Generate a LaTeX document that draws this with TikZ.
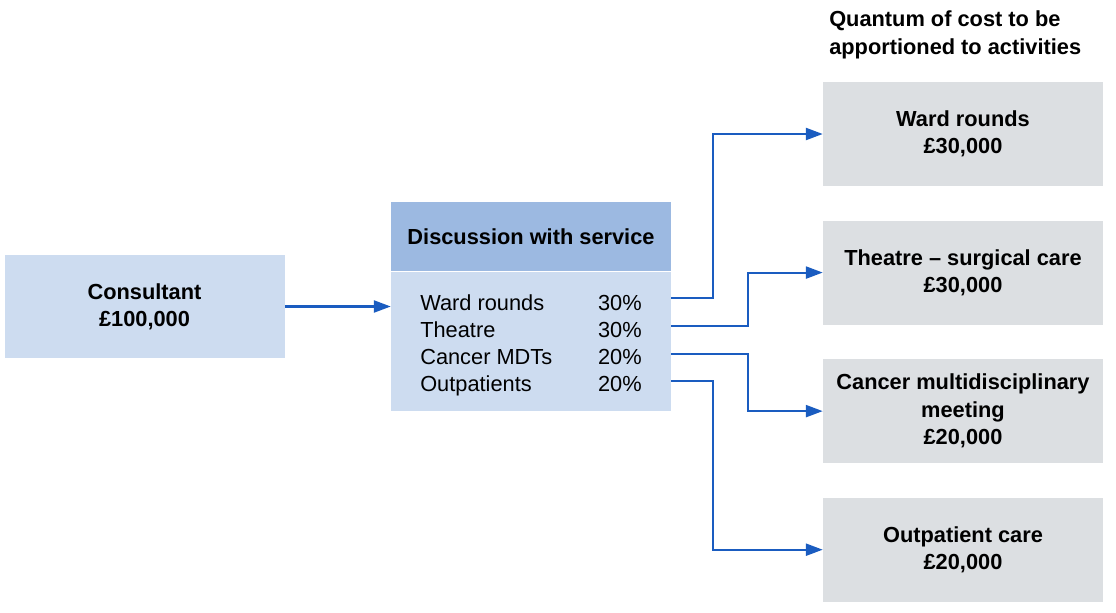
\documentclass[tikz,border=0pt]{standalone}
\usepackage{fontspec}
\setmainfont{Liberation Sans}
\usetikzlibrary{arrows.meta, positioning}
\definecolor{CostLightBlue}{HTML}{CDDCF0}
\definecolor{CostMidBlue}{HTML}{9CB9E1}
\definecolor{CostGrey}{HTML}{DCDFE2}
\definecolor{CostArrow}{HTML}{1A5CC0}
\colorlet{headbgcolor}{CostMidBlue}

\tikzset{
  costbox/.style = {rectangle, inner sep=0pt, minimum width=7cm, minimum height=2.6cm, align=center, font=\fontsize{15.5}{19.5}\selectfont\bfseries},
  rowtext/.style = {inner sep=0pt, font=\fontsize{15.5}{19.5}\selectfont},
  link/.style = {draw=CostArrow, line width=1.5pt, -{Triangle[length=0.42cm, width=0.3cm]}},
}

\begin{document}
\begin{tikzpicture}
      \useasboundingbox (0,0) rectangle (27.9,-15.325);

      % left: source of the cost
      \node[costbox, fill = CostLightBlue, minimum height = 2.575cm] at (3.6125, -7.6625) (consultant) {Consultant\\\pounds100,000};

      % middle: split agreed with the service
      \node[costbox, fill = headbgcolor, minimum height = 1.725cm] at (13.275, -5.9125) (head) {Discussion with service};
      \node[costbox, fill = CostLightBlue, minimum height = 3.475cm, anchor = north] at (head.south) (body) {};

      \node[rowtext, anchor = base west] at (10.5, -7.75) (lab1) {Ward rounds};
      \node[rowtext, anchor = base west] at (10.5, -8.425) (lab2) {Theatre};
      \node[rowtext, anchor = base west] at (10.5, -9.1) (lab3) {Cancer MDTs};
      \node[rowtext, anchor = base west] at (10.5, -9.775) (lab4) {Outpatients};
      \node[rowtext, anchor = base east] at (16.05, -7.75) (pct1) {30\%};
      \node[rowtext, anchor = base east] at (16.05, -8.425) (pct2) {30\%};
      \node[rowtext, anchor = base east] at (16.05, -9.1) (pct3) {20\%};
      \node[rowtext, anchor = base east] at (16.05, -9.775) (pct4) {20\%};

      % right: activities
      \node[inner sep = 0pt, anchor = north west, align = left, font = \fontsize{15.5}{19.5}\selectfont\bfseries] at (20.725, -0.27) (title) {Quantum of cost to be\\apportioned to activities};
      \node[costbox, fill = CostGrey] at (24.075, -3.35) (ward) {Ward rounds\\\pounds30,000};
      \node[costbox, fill = CostGrey, below = 0.85cm of ward] (theatre) {Theatre -- surgical care\\\pounds30,000};
      \node[costbox, fill = CostGrey, below = 0.85cm of theatre] (cancer) {Cancer multidisciplinary\\meeting\\\pounds20,000};
      \node[costbox, fill = CostGrey, below = 0.85cm of cancer] (outpat) {Outpatient care\\\pounds20,000};

      \coordinate (out1) at ([yshift=0.3cm]body.east |- pct1.base);
      \coordinate (out2) at ([yshift=0.27cm]body.east |- pct2.base);
      \coordinate (out3) at ([yshift=0.25cm]body.east |- pct3.base);
      \coordinate (out4) at ([yshift=0.25cm]body.east |- pct4.base);

      \draw[link] (consultant.east) -- (consultant.east -| body.west);
      \draw[link] (out1) -- ++(1.05, 0) |- (ward);
      \draw[link] (out2) -- ++(1.925, 0) |- (theatre);
      \draw[link] (out3) -- ++(1.925, 0) |- (cancer);
      \draw[link] (out4) -- ++(1.05, 0) |- (outpat);
    \end{tikzpicture}
\end{document}
